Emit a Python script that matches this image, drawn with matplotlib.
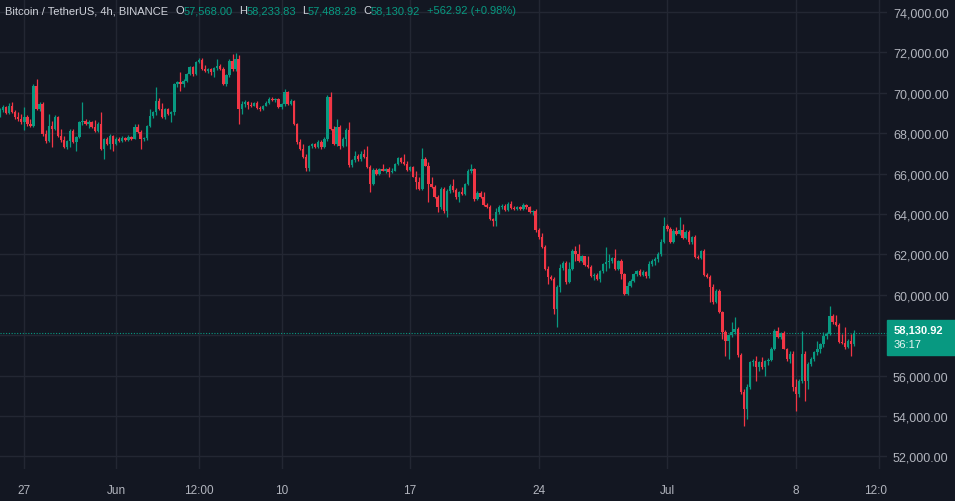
import matplotlib
matplotlib.use("Agg")
import matplotlib.pyplot as plt
from matplotlib.patches import Rectangle
from matplotlib.transforms import Bbox, TransformedBbox
from matplotlib.ticker import FuncFormatter
import numpy as np

plt.rcParams["font.family"] = ["Liberation Sans", "DejaVu Sans"]

# BTC/USDT 4h candles, 25 May 16:00 -> 11 Jul 04:00 (prices in thousands USDT)
first_open = 68.85
highs = [69.24, 69.39, 69.34, 69.49, 69.54, 69.15, 69.05, 68.95,
         69.29, 68.90, 68.70, 70.43, 70.68, 69.54, 69.54, 68.16, 68.95, 68.60,
         68.90, 68.85, 68.21, 67.86, 67.66, 68.21, 68.21, 67.86, 68.60, 69.54,
         68.70, 68.65, 68.60, 68.65, 68.55, 69.05, 67.76, 67.81, 67.96, 67.91,
         67.81, 67.81, 67.86, 67.81, 67.91, 67.86, 68.45, 68.45, 68.16, 67.81,
         68.40, 69.20, 69.10, 70.28, 69.74, 69.49, 69.25, 69.25, 69.10, 70.48,
         70.58, 71.03, 70.68, 70.98, 71.32, 71.32, 71.57, 71.72, 71.72, 71.37,
         71.23, 71.23, 71.27, 71.67, 71.42, 71.27, 70.93, 71.67, 71.92, 71.97,
         71.87, 69.59, 69.64, 69.59, 69.54, 69.54, 69.59, 69.34, 69.39, 69.59,
         69.79, 69.79, 69.74, 69.74, 69.49, 70.19, 70.09, 69.69, 69.64, 68.50,
         67.71, 67.46, 66.97, 67.41, 67.51, 67.51, 67.66, 67.66, 67.81, 69.89,
         70.04, 68.36, 68.70, 68.40, 67.81, 68.26, 68.55, 66.72, 67.12, 66.97,
         67.12, 67.22, 67.37, 66.42, 66.28, 66.28, 66.28, 66.47, 66.28, 66.32,
         66.28, 66.52, 66.82, 66.82, 66.97, 66.62, 66.37, 66.37, 66.13, 65.83,
         67.27, 66.82, 66.57, 65.83, 65.43, 64.94, 65.33, 65.33, 65.24, 65.48,
         65.73, 65.29, 65.14, 65.33, 65.53, 66.23, 66.47, 66.28, 65.14, 65.14,
         65.09, 64.54, 64.44, 63.80, 64.30, 64.44, 64.49, 64.49, 64.59, 64.64,
         64.39, 64.39, 64.39, 64.54, 64.49, 64.39, 64.20, 64.25, 63.31, 63.06,
         62.46, 61.42, 60.98, 60.88, 60.48, 61.52, 61.67, 61.67, 61.62, 62.27,
         62.41, 62.51, 61.97, 61.87, 61.92, 61.47, 61.08, 61.08, 61.23, 61.57,
         62.37, 62.02, 61.87, 62.27, 61.72, 61.77, 61.08, 60.63, 60.78, 61.08,
         61.23, 61.28, 61.23, 61.18, 61.67, 61.77, 61.87, 62.12, 62.76, 63.85,
         63.50, 63.36, 63.26, 63.36, 63.85, 63.50, 63.21, 63.21, 62.91, 62.96,
         61.97, 62.22, 62.27, 61.08, 60.98, 60.53, 60.29, 60.29, 59.20, 58.26,
         58.06, 58.65, 58.90, 58.40, 57.12, 55.34, 55.58, 56.72, 56.82, 56.97,
         56.72, 56.92, 56.77, 56.87, 57.41, 58.31, 58.40, 58.16, 58.21, 57.37,
         57.22, 57.22, 55.83, 55.83, 58.21, 57.22, 56.67, 56.92, 57.22, 57.71,
         57.61, 58.16, 58.16, 59.44, 59.05, 59.00, 58.60, 58.06, 58.40, 57.81,
         58.06, 58.23383]
lows = [68.80, 69.05, 68.95, 68.95, 69.00, 68.70, 68.60, 68.45,
        68.16, 68.35, 68.30, 68.30, 69.15, 69.10, 67.86, 67.51, 67.56, 67.31,
        68.16, 67.81, 67.56, 67.26, 67.22, 67.31, 67.51, 67.12, 67.76, 68.40,
        68.40, 68.25, 68.25, 68.06, 68.06, 67.17, 66.72, 67.41, 67.22, 67.12,
        67.41, 67.56, 67.56, 67.61, 67.61, 67.66, 67.71, 68.01, 67.22, 67.61,
        67.66, 68.30, 68.75, 68.90, 69.15, 68.75, 68.70, 68.90, 68.55, 68.90,
        70.28, 70.09, 70.28, 70.53, 70.88, 70.83, 70.88, 71.47, 71.13, 71.03,
        70.98, 70.88, 70.78, 71.13, 71.13, 70.38, 70.33, 70.78, 71.08, 71.08,
        68.45, 68.95, 69.29, 69.20, 69.29, 69.34, 69.20, 69.10, 69.15, 69.34,
        69.44, 69.59, 69.54, 69.25, 69.20, 69.34, 69.39, 69.39, 68.40, 67.46,
        67.17, 66.77, 66.13, 66.13, 67.26, 67.26, 67.26, 67.22, 67.26, 67.61,
        68.16, 67.41, 67.37, 67.22, 67.31, 67.37, 66.32, 66.32, 66.57, 66.62,
        66.62, 66.77, 66.28, 65.09, 65.43, 65.93, 65.93, 66.13, 66.03, 65.83,
        66.03, 66.13, 66.42, 66.52, 66.42, 66.13, 66.13, 65.83, 65.24, 65.19,
        65.19, 66.37, 64.59, 65.29, 64.79, 64.10, 64.25, 64.05, 63.85, 65.04,
        65.09, 64.74, 64.59, 64.94, 64.94, 65.43, 66.03, 64.64, 64.69, 64.79,
        64.40, 64.30, 63.70, 63.40, 63.40, 64.00, 64.25, 64.15, 64.15, 64.25,
        64.20, 64.20, 64.20, 64.20, 64.25, 64.05, 63.95, 63.11, 62.76, 62.32,
        61.23, 60.53, 60.73, 59.05, 58.41, 60.14, 61.23, 60.53, 60.58, 61.23,
        61.67, 61.62, 61.62, 61.42, 61.33, 60.88, 60.73, 60.73, 60.63, 61.08,
        61.18, 61.33, 61.57, 61.23, 61.23, 60.78, 59.99, 59.99, 60.38, 60.63,
        60.93, 60.93, 60.93, 60.83, 60.83, 61.42, 61.47, 61.62, 61.92, 62.56,
        63.16, 62.56, 62.56, 62.96, 62.96, 62.76, 62.76, 62.51, 62.51, 61.82,
        61.77, 61.77, 60.93, 60.83, 59.64, 59.54, 59.59, 59.10, 57.81, 56.97,
        56.82, 57.91, 58.06, 56.92, 55.09, 53.50, 53.85, 55.34, 56.47, 55.73,
        56.23, 56.33, 55.98, 56.52, 56.72, 57.27, 57.86, 57.81, 57.32, 56.72,
        56.62, 55.24, 54.25, 54.94, 55.63, 54.74, 55.34, 56.47, 56.72, 57.02,
        57.12, 57.41, 57.81, 58.01, 58.55, 58.45, 57.61, 57.56, 57.32, 57.37,
        56.97, 57.48828]
closes = [69.15, 69.29, 69.00, 69.34, 69.05, 68.80, 68.70, 68.55,
          68.80, 68.45, 68.35, 70.33, 69.20, 69.44, 67.96, 67.61, 68.35, 68.21,
          68.80, 67.86, 67.66, 67.31, 67.61, 68.11, 67.56, 67.81, 68.55, 68.60,
          68.45, 68.55, 68.30, 68.11, 68.45, 67.22, 67.71, 67.46, 67.86, 67.46,
          67.71, 67.61, 67.76, 67.66, 67.81, 67.71, 68.30, 68.06, 67.71, 67.76,
          68.35, 68.85, 69.05, 69.59, 69.20, 68.80, 69.20, 68.95, 69.05, 70.43,
          70.53, 70.43, 70.58, 70.93, 71.27, 70.93, 71.52, 71.62, 71.18, 71.08,
          71.18, 71.03, 71.23, 71.32, 71.18, 70.43, 70.88, 71.57, 71.18, 71.67,
          69.20, 69.44, 69.54, 69.39, 69.34, 69.49, 69.25, 69.20, 69.34, 69.49,
          69.69, 69.64, 69.69, 69.29, 69.44, 70.04, 69.44, 69.59, 68.45, 67.56,
          67.22, 66.82, 66.28, 67.37, 67.46, 67.31, 67.56, 67.31, 67.71, 69.79,
          68.21, 67.46, 68.30, 67.37, 67.71, 68.16, 66.42, 66.67, 66.87, 66.72,
          66.97, 66.82, 66.32, 65.48, 66.18, 65.98, 66.23, 66.13, 66.23, 66.08,
          66.13, 66.47, 66.77, 66.57, 66.47, 66.18, 66.32, 65.83, 65.58, 65.24,
          66.72, 66.37, 65.48, 65.34, 64.84, 64.34, 65.24, 64.15, 65.14, 65.38,
          65.19, 64.84, 65.09, 64.99, 65.48, 66.13, 66.23, 64.74, 65.04, 64.84,
          64.44, 64.34, 63.75, 63.65, 64.10, 64.34, 64.39, 64.20, 64.49, 64.30,
          64.25, 64.34, 64.25, 64.44, 64.34, 64.10, 64.15, 63.21, 62.86, 62.37,
          61.28, 60.88, 60.78, 59.30, 60.38, 61.32, 61.57, 60.63, 61.28, 62.17,
          62.02, 61.67, 61.92, 61.47, 61.37, 60.93, 60.98, 60.78, 61.18, 61.52,
          61.62, 61.67, 61.82, 61.28, 61.67, 61.03, 60.04, 60.43, 60.68, 61.03,
          61.18, 60.98, 61.13, 60.93, 61.52, 61.67, 61.77, 62.02, 62.61, 63.40,
          63.26, 62.61, 63.16, 63.01, 63.21, 62.81, 63.11, 62.61, 62.86, 61.87,
          61.82, 62.17, 60.98, 60.88, 60.38, 59.64, 60.19, 59.15, 58.16, 57.71,
          58.01, 58.16, 58.31, 57.02, 55.19, 54.35, 55.43, 56.67, 56.72, 56.42,
          56.67, 56.42, 56.72, 56.77, 57.32, 58.21, 57.91, 58.11, 57.32, 56.82,
          57.07, 55.43, 55.09, 55.73, 57.07, 55.73, 56.57, 56.82, 57.17, 57.32,
          57.56, 57.96, 58.06, 58.95, 58.65, 58.50, 57.66, 57.61, 57.42, 57.71,
          57.568, 58.13092]

# time axis: candle index, 0 = 27 May 00:00
tick_pos = [0, 30, 57, 84, 126, 168, 210, 252, 279]
tick_labels = ["27", "Jun", "12:00", "10", "17", "24", "Jul", "8", "12:00"]
price_ticks = list(range(52000, 74001, 2000))
countdown = "36:17"

bg = "#131722"
grid_c = "#232733"
up_c = "#089981"
down_c = "#f23645"
text_c = "#b2b5be"

c = np.array(closes) * 1000
h = np.array(highs) * 1000
l = np.array(lows) * 1000
o = np.concatenate([[first_open * 1000], c[:-1]])
x = np.arange(-8, -8 + len(c))
last = c[-1]

fig = plt.figure(figsize=(9.55, 5.02), dpi=100, facecolor=bg)
ax = fig.add_axes([0, 32 / 502, 887 / 955, 470 / 502])
ax.set_facecolor(bg)

up = c >= o
cols = np.where(up, up_c, down_c)
top = np.maximum.reduce([h, o, c])
bot = np.minimum.reduce([l, o, c])
ax.vlines(x, bot, top, colors=cols, lw=0.9, zorder=3)
body_lo = np.minimum(o, c)
body_h = np.maximum(np.abs(c - o), 45)
ax.bar(x, body_h, bottom=body_lo, width=0.78, color=cols, linewidth=0, zorder=4)

ax.set_xlim(-7.94, 281.75)
ax.set_ylim(51378, 74643)


def price_fmt(v, pos):
    # the scale label under the last-price box is covered in the original
    if abs(v - last) < 800:
        return ""
    return f"{v:,.2f}"


ax.set_xticks(tick_pos)
ax.set_xticklabels(tick_labels)
ax.set_yticks(price_ticks)
ax.yaxis.set_major_formatter(FuncFormatter(price_fmt))
ax.yaxis.tick_right()
ax.grid(True, color=grid_c, lw=1)
ax.set_axisbelow(True)
ax.tick_params(axis="y", length=0, pad=4.3, labelsize=9, labelcolor=text_c)
ax.tick_params(axis="x", length=0, pad=11, labelsize=8.5, labelcolor=text_c)
for s in ax.spines.values():
    s.set_visible(False)

# last x label is cut by the price scale
clip = TransformedBbox(Bbox([[0, 0], [887 / 955, 1]]), fig.transFigure)
lab = ax.xaxis.get_major_ticks()[-1].label1
lab.set_clip_on(True)
lab.set_clip_box(clip)

# last price line + label
ax.axhline(last, color=up_c, lw=0.8, ls=(0, (1, 1.5)), zorder=2)
py = ax.transData.transform((0, last))[1]
fig.patches.append(Rectangle((887, py - 22), 68, 35, transform=None,
                             color=up_c, zorder=5))
fig.text(894 / 955, (py + 3) / 502, f"{last:,.2f}", color="white",
         fontsize=8, fontweight="bold", va="center", ha="left", zorder=6)
fig.text(894 / 955, (py - 11.5) / 502, countdown, color="#e8f5f2",
         fontsize=8, va="center", ha="left", zorder=6)

# header legend
hy = 1 - 11 / 502
fig.text(5 / 955, hy, "Bitcoin / TetherUS, 4h, BINANCE", color="#d1d4dc",
         fontsize=8, va="center")
chg = c[-1] - o[-1]
parts = [(175, 9, "O", o[-1]), (239, 8, "H", h[-1]), (302, 6, "L", l[-1]),
         (363, 8, "C", c[-1])]
for px, off, k, v in parts:
    fig.text(px / 955, hy, k, color="#d1d4dc", fontsize=8, va="center")
    fig.text((px + off) / 955, hy, f"{v:,.2f}", color=up_c, fontsize=8, va="center")
fig.text(427 / 955, hy, f"{chg:+,.2f} ({chg / o[-1] * 100:+.2f}%)", color=up_c,
         fontsize=8, va="center")

fig.savefig("out.png", dpi=100, facecolor=bg)
